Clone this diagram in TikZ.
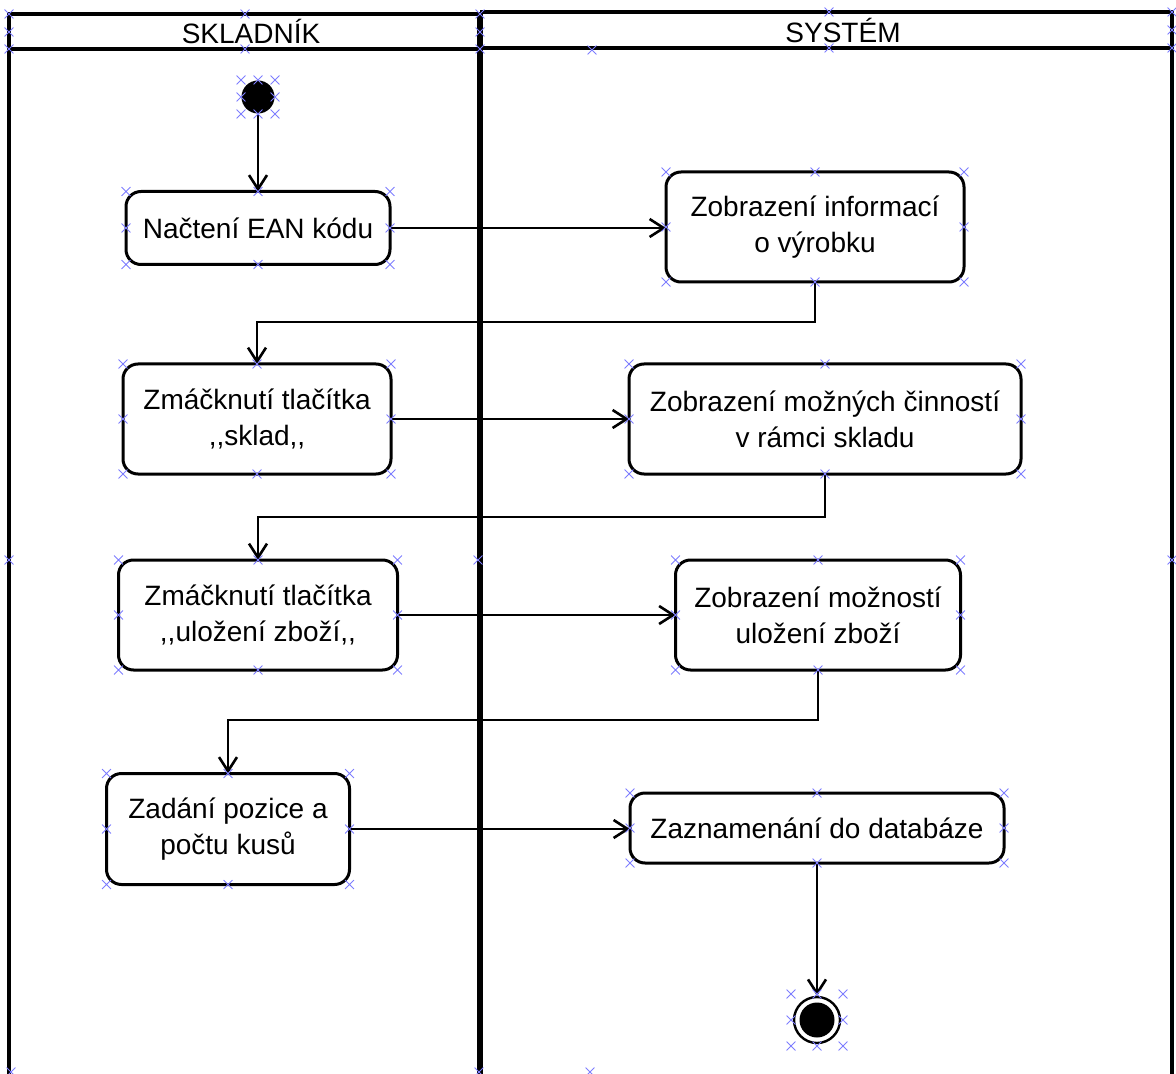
\documentclass[tikz,border=0pt]{standalone}
\usepackage{fontspec}
\newfontfamily\diagfont{Liberation Sans}
\usetikzlibrary{arrows.meta,calc}
\definecolor{handle}{RGB}{125,125,255}

\tikzset{
	act/.style={shape=rectangle,draw=black,line width=1.5pt,rounded corners=7.5pt,
		align=center,inner sep=0pt,outer sep=0pt,font=\diagfont\fontsize{14}{18}\selectfont},
	flow/.style={-{Straight Barb[length=7pt,width=9pt]},line width=1.3pt},
	lane/.style={line width=1.7pt},
	hdl/.style={draw=handle,line width=0.5pt}
}
\newcommand{\hx}[1]{\draw[hdl] (#1) +(-2.2pt,-2.2pt) -- +(2.2pt,2.2pt) +(-2.2pt,2.2pt) -- +(2.2pt,-2.2pt);}

\begin{document}
\begin{tikzpicture}[x=0.5pt,y=-0.5pt]
	
	\useasboundingbox (0,0) rectangle (1176,1074);
	
	% swimlanes
	\draw[lane] (9,1090) -- (9,14) -- (480,14);
	\draw[lane] (9,49) -- (480,49);
	\draw[lane] (480,12) -- (1172,12) -- (1172,1090);
	\draw[lane] (480,48) -- (1172,48);
	\draw[line width=2.8pt] (480,12) -- (480,1090);
	\node[font=\diagfont\fontsize{14}{18}\selectfont] (laneA) at (251,32) {SKLADNÍK};
	\node[font=\diagfont\fontsize{14}{18}\selectfont] (laneB) at (843,31) {SYSTÉM};
	
	\node[shape=circle,fill=black,minimum size=16.5pt,inner sep=0pt] (start) at (258,97) {};
	
	\node[act,minimum width=132pt,minimum height=36.5pt] (a1) at (258,228) {Načtení EAN kódu};
	\node[act,minimum width=149pt,minimum height=55pt] (b1) at (815,227) {Zobrazení informací\\o výrobku};
	\node[act,minimum width=134pt,minimum height=55pt] (a2) at (257,419) {Zmáčknutí tlačítka\\,,sklad,,};
	\node[act,minimum width=196pt,minimum height=55pt] (b2) at (825,419) {Zobrazení možných činností\\v rámci skladu};
	\node[act,minimum width=139.5pt,minimum height=55pt] (a3) at (258,615) {Zmáčknutí tlačítka\\,,uložení zboží,,};
	\node[act,minimum width=142.5pt,minimum height=55pt] (b3) at (818,615) {Zobrazení možností\\uložení zboží};
	\node[act,minimum width=121.5pt,minimum height=55.5pt] (a4) at (228,829) {Zadání pozice a\\počtu kusů};
	\node[act,minimum width=187pt,minimum height=35pt] (b4) at (817,828) {Zaznamenání do databáze};
	
	\node[shape=circle,draw=black,line width=1.2pt,minimum size=23pt,inner sep=0pt] (stop) at (817,1020) {};
	\node[shape=circle,fill=black,minimum size=17.5pt,inner sep=0pt] (stopdot) at (stop) {};
	
	\draw[flow] (start) -- (a1.north);
	\draw[flow] (a1.east) -- (a1.east -| b1.west);
	\draw[flow] (b1.south) -- ++(0,40) -| (a2.north);
	\draw[flow] (a2.east) -- (a2.east -| b2.west);
	\draw[flow] (b2.south) -- ++(0,43) -| (a3.north);
	\draw[flow] (a3.east) -- (a3.east -| b3.west);
	\draw[flow] (b3.south) -- ++(0,50) -| (a4.north);
	\draw[flow] (a4.east) -- (a4.east -| b4.west);
	\draw[flow] (b4.south) -- (stop.north);
	
	% selection handles
	\foreach \n in {a1,b1,a2,b2,a3,b3,a4,b4}
		\foreach \a in {north west,north,north east,west,east,south west,south,south east}
			\hx{\n.\a};
	\foreach \p in {{-17,-17},{0,-17},{17,-17},{-17,0},{17,0},{-17,17},{0,17},{17,17}}
		\hx{$(start)+(\p)$};
	\foreach \p in {{-26,-26},{0,-26},{26,-26},{-26,0},{26,0},{-26,26},{0,26},{26,26}}
		\hx{$(stop)+(\p)$};
	\foreach \p in {{9,14},{245,14},{480,14},{9,32},{480,32},{9,49},{245,49},{480,49},
		{829,12},{1172,12},{1172,30},{592,50},{829,48},{1172,48},
		{9,560},{478,560},{1172,560},{11,1072},{479,1072},{590,1072}}
		\hx{\p};
	
\end{tikzpicture}
\end{document}
